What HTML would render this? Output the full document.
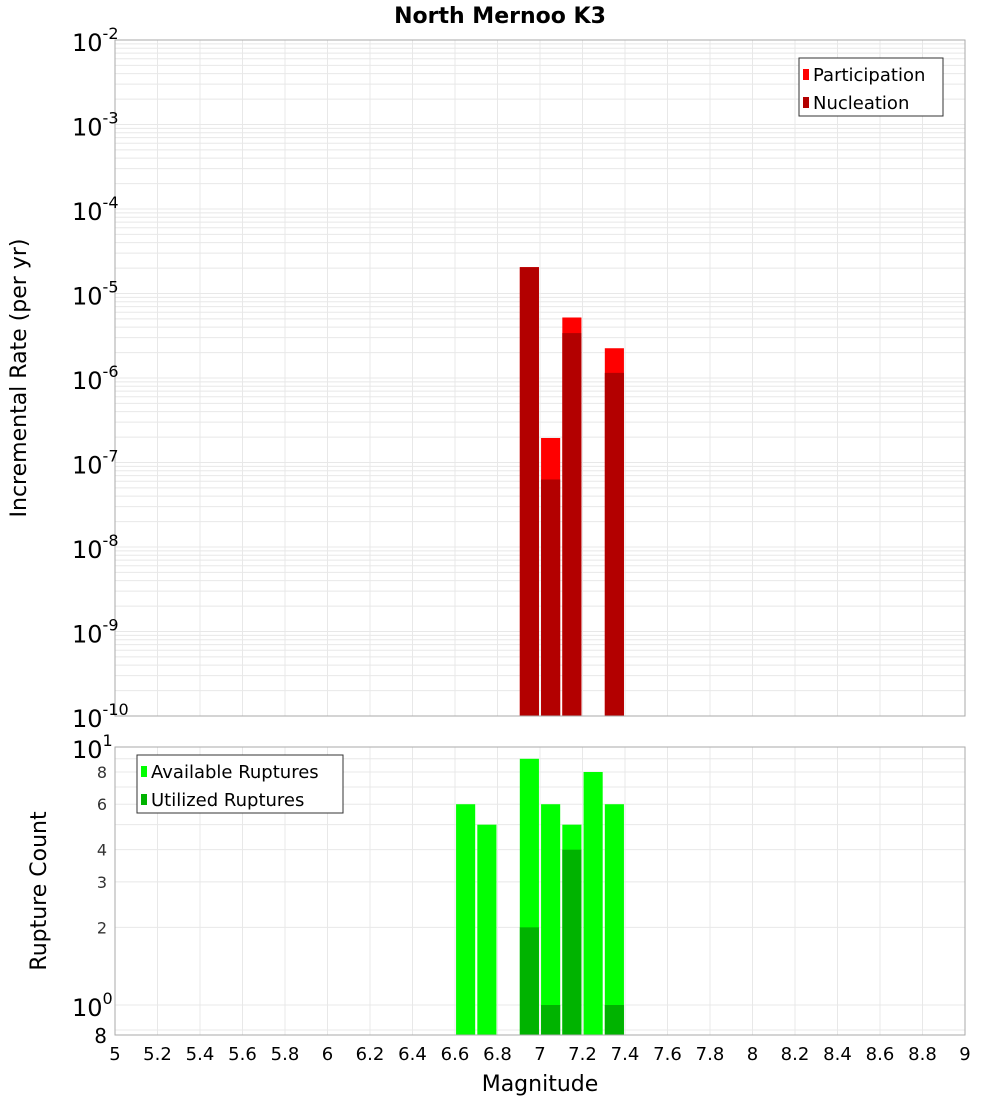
<!DOCTYPE html>
<html><head><meta charset="utf-8"><style>
body{margin:0;background:#fff;font-family:"Liberation Sans","DejaVu Sans",sans-serif}
svg text{font-family:"DejaVu Sans","Liberation Sans",sans-serif}
</style></head><body>
<svg id="c" width="1000" height="1100" xmlns="http://www.w3.org/2000/svg"></svg>
<script>
const magBins=[6.95,7.05,7.15,7.35];
const participation=[2.05e-5,1.95e-7,5.2e-6,2.25e-6];
const nucleation=[2.05e-5,6.3e-8,3.4e-6,1.15e-6];
const countBins=[6.65,6.75,6.95,7.05,7.15,7.25,7.35];
const available=[6,5,9,6,5,8,6];
const utilizedBins=[6.95,7.05,7.15,7.35];
const utilized=[2,1,4,1];
const xTicks=[5,5.2,5.4,5.6,5.8,6,6.2,6.4,6.6,6.8,7,7.2,7.4,7.6,7.8,8,8.2,8.4,8.6,8.8,9];
const topExps=[-2,-3,-4,-5,-6,-7,-8,-9,-10];
const botTicks=[8,6,4,3,2];

const S=document.getElementById('c'),NS='http://www.w3.org/2000/svg';
function mk(t,a,p){const e=document.createElementNS(NS,t);for(const k in a)e.setAttribute(k,a[k]);(p||S).appendChild(e);return e;}
const X0=115,X1=965;
const x=m=>X0+(m-5)/4*(X1-X0);
const T0=40,T1=716;
const yT=v=>T0+(-2-Math.log10(v))*(T1-T0)/8;
const B0=747,B1=1035,BP=258;
const yB=v=>B0+(1-Math.log10(v))*BP;

// title
let t=mk('text',{x:500,y:23,'text-anchor':'middle','font-size':22,'font-weight':'bold'});t.textContent='North Mernoo K3';


// top grid
const gT=mk('g',{});
for(let e=-10;e<-2;e++)for(let k=1;k<10;k++){const y=yT(k*Math.pow(10,e));mk('line',{x1:X0,x2:X1,y1:y,y2:y,stroke:'#e8e8e8','stroke-width':1},gT);}
xTicks.forEach(m=>{mk('line',{x1:x(m),x2:x(m),y1:T0,y2:T1,stroke:'#e8e8e8'},gT);mk('line',{x1:x(m),x2:x(m),y1:B0,y2:B1,stroke:'#e8e8e8'},gT);});
for(let k=1;k<10;k++){const y=yB(k);mk('line',{x1:X0,x2:X1,y1:y,y2:y,stroke:'#e8e8e8'},gT);}
mk('line',{x1:X0,x2:X1,y1:yB(0.8),y2:yB(0.8),stroke:'#e8e8e8'},gT);

// top bars
const bw=0.09;
magBins.forEach((m,i)=>{
 let r=mk('rect',{x:x(m-bw/2),y:yT(participation[i]),width:x(m+bw/2)-x(m-bw/2),height:T1-yT(participation[i]),fill:'#ff0000'});
 
 r=mk('rect',{x:x(m-bw/2),y:yT(nucleation[i]),width:x(m+bw/2)-x(m-bw/2),height:T1-yT(nucleation[i]),fill:'#b30000'});
 
});
// bottom bars
countBins.forEach((m,i)=>{
 const r=mk('rect',{x:x(m-bw/2),y:yB(available[i]),width:x(m+bw/2)-x(m-bw/2),height:B1-yB(available[i]),fill:'#00ff00'});
 
});
utilizedBins.forEach((m,i)=>{
 const r=mk('rect',{x:x(m-bw/2),y:yB(utilized[i]),width:x(m+bw/2)-x(m-bw/2),height:B1-yB(utilized[i]),fill:'#00b300'});
 
});

// frames
let f=mk('rect',{x:X0,y:T0,width:X1-X0,height:T1-T0,fill:'none',stroke:'#aaa'});
f=mk('rect',{x:X0,y:B0,width:X1-X0,height:B1-B0,fill:'none',stroke:'#aaa'});

// top y labels
topExps.forEach(e=>{
 const y=yT(Math.pow(10,e));
 const tx=mk('text',{x:72,y:y+11,'font-size':24});
 
 tx.textContent='10';
 const s=mk('tspan',{dy:-12,'font-size':16});s.textContent=String(e);tx.appendChild(s);
});
// bottom y labels
let tx=mk('text',{x:72,y:B0+11,'font-size':24});tx.textContent='10';
let s=mk('tspan',{dy:-12,'font-size':16});s.textContent='1';tx.appendChild(s);

tx=mk('text',{x:72,y:yB(1)+11,'font-size':24});tx.textContent='10';
s=mk('tspan',{dy:-12,'font-size':16});s.textContent='0';tx.appendChild(s);

botTicks.forEach(v=>{const l=mk('text',{x:107,y:yB(v)+6,'text-anchor':'end','font-size':16,fill:'#333'});l.textContent=v;
 });
tx=mk('text',{x:107,y:B1+8,'text-anchor':'end','font-size':20});tx.textContent='8';


// x ticks
xTicks.forEach(m=>{const l=mk('text',{x:x(m),y:1060,'text-anchor':'middle','font-size':18});l.textContent=String(m);
 });
tx=mk('text',{x:540,y:1091,'text-anchor':'middle','font-size':22});tx.textContent='Magnitude';

tx=mk('text',{x:0,y:0,'text-anchor':'middle','font-size':22,transform:'translate(26,378) rotate(-90)'});tx.textContent='Incremental Rate (per yr)';

tx=mk('text',{x:0,y:0,'text-anchor':'middle','font-size':22,transform:'translate(46,891) rotate(-90)'});tx.textContent='Rupture Count';


// legends
function legend(x0,y0,w,items,name){
 const g=mk('g',{});
 mk('rect',{x:x0,y:y0,width:w,height:58,fill:'#fff',stroke:'#333'},g);
 items.forEach((it,i)=>{
  mk('rect',{x:x0+4,y:y0+11+i*28,width:6,height:11,fill:it[1]},g);
  const l=mk('text',{x:x0+14,y:y0+23+i*28,'font-size':18},g);l.textContent=it[0];
  
 });
}
legend(799,58,144,[['Participation','#ff0000'],['Nucleation','#b30000']],'top-legend');
legend(137,755,206,[['Available Ruptures','#00ff00'],['Utilized Ruptures','#00b300']],'bottom-legend');
</script>
</body></html>
